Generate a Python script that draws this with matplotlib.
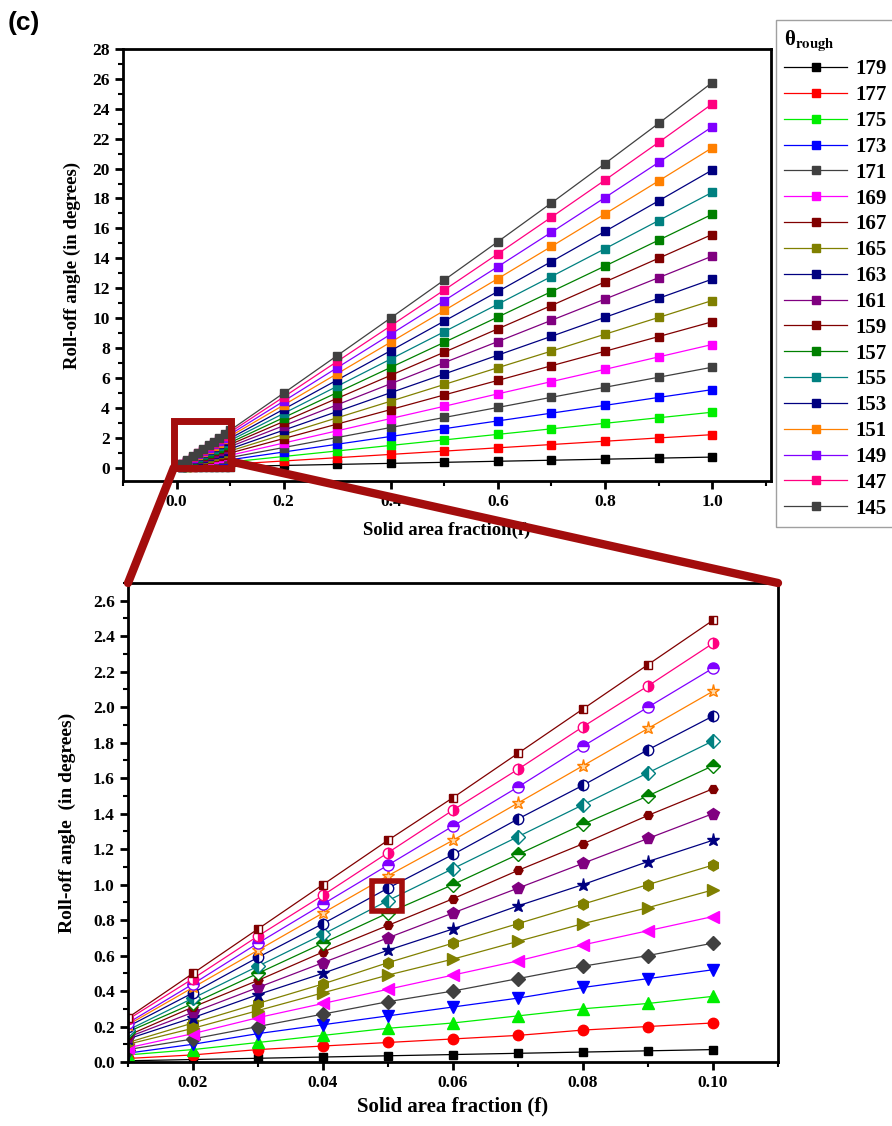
import numpy as np
import matplotlib
matplotlib.use("Agg")
import matplotlib.pyplot as plt
from matplotlib.patches import Rectangle, ConnectionPatch
from matplotlib.ticker import MultipleLocator, FormatStrFormatter

plt.rcParams['font.family'] = ['Liberation Serif', 'DejaVu Serif']
plt.rcParams['font.weight'] = 'bold'
plt.rcParams['mathtext.fontset'] = 'stix'

# solid area fraction f
f_vals = [0.01, 0.02, 0.03, 0.04, 0.05, 0.06, 0.07, 0.08, 0.09, 0.10,
          0.2, 0.3, 0.4, 0.5, 0.6, 0.7, 0.8, 0.9, 1.0]

theta_rough = [179, 177, 175, 173, 171, 169, 167, 165, 163, 161,
               159, 157, 155, 153, 151, 149, 147, 145]

# roll-off angle (deg), one list per theta_rough
a179 = [0.007, 0.014, 0.021, 0.028, 0.035, 0.042, 0.049, 0.056, 0.063, 0.07, 0.14, 0.21, 0.28, 0.35, 0.42, 0.49, 0.56, 0.63, 0.70]
a177 = [0.02, 0.04, 0.07, 0.09, 0.11, 0.13, 0.15, 0.18, 0.20, 0.22, 0.44, 0.66, 0.88, 1.10, 1.32, 1.54, 1.76, 1.98, 2.20]
a175 = [0.04, 0.07, 0.11, 0.15, 0.19, 0.22, 0.26, 0.30, 0.33, 0.37, 0.74, 1.11, 1.48, 1.85, 2.22, 2.59, 2.96, 3.33, 3.70]
a173 = [0.05, 0.10, 0.16, 0.21, 0.26, 0.31, 0.36, 0.42, 0.47, 0.52, 1.04, 1.56, 2.08, 2.60, 3.12, 3.64, 4.16, 4.69, 5.21]
a171 = [0.07, 0.13, 0.20, 0.27, 0.34, 0.40, 0.47, 0.54, 0.60, 0.67, 1.34, 2.01, 2.68, 3.35, 4.02, 4.70, 5.37, 6.04, 6.71]
a169 = [0.08, 0.16, 0.25, 0.33, 0.41, 0.49, 0.57, 0.66, 0.74, 0.82, 1.64, 2.46, 3.28, 4.10, 4.93, 5.75, 6.57, 7.40, 8.23]
a167 = [0.10, 0.19, 0.29, 0.39, 0.49, 0.58, 0.68, 0.78, 0.87, 0.97, 1.94, 2.91, 3.88, 4.86, 5.83, 6.81, 7.78, 8.76, 9.75]
a165 = [0.11, 0.22, 0.33, 0.44, 0.56, 0.67, 0.78, 0.89, 1.00, 1.11, 2.22, 3.33, 4.44, 5.56, 6.68, 7.79, 8.92, 10.04, 11.17]
a163 = [0.13, 0.25, 0.38, 0.50, 0.63, 0.75, 0.88, 1.00, 1.13, 1.25, 2.50, 3.75, 5.01, 6.26, 7.52, 8.78, 10.05, 11.32, 12.60]
a161 = [0.14, 0.28, 0.42, 0.56, 0.70, 0.84, 0.98, 1.12, 1.26, 1.40, 2.80, 4.20, 5.61, 7.02, 8.43, 9.85, 11.27, 12.70, 14.14]
a159 = [0.15, 0.31, 0.46, 0.62, 0.77, 0.92, 1.08, 1.23, 1.39, 1.54, 3.08, 4.63, 6.17, 7.72, 9.28, 10.84, 12.42, 14.00, 15.59]
a157 = [0.17, 0.33, 0.50, 0.67, 0.84, 1.00, 1.17, 1.34, 1.50, 1.67, 3.34, 5.02, 6.70, 8.38, 10.07, 11.77, 13.48, 15.21, 16.94]
a155 = [0.18, 0.36, 0.54, 0.72, 0.91, 1.09, 1.27, 1.45, 1.63, 1.81, 3.62, 5.44, 7.26, 9.09, 10.93, 12.78, 14.64, 16.52, 18.41]
a153 = [0.20, 0.39, 0.59, 0.78, 0.98, 1.17, 1.37, 1.56, 1.76, 1.95, 3.90, 5.86, 7.82, 9.80, 11.78, 13.78, 15.80, 17.84, 19.90]
a151 = [0.21, 0.42, 0.63, 0.84, 1.05, 1.25, 1.46, 1.67, 1.88, 2.09, 4.18, 6.28, 8.39, 10.51, 12.64, 14.79, 16.97, 19.17, 21.39]
a149 = [0.22, 0.44, 0.67, 0.89, 1.11, 1.33, 1.55, 1.78, 2.00, 2.22, 4.44, 6.68, 8.92, 11.17, 13.44, 15.74, 18.06, 20.41, 22.79]
a147 = [0.24, 0.47, 0.71, 0.94, 1.18, 1.42, 1.65, 1.89, 2.12, 2.36, 4.72, 7.10, 9.48, 11.88, 14.30, 16.75, 19.23, 21.75, 24.32]
a145 = [0.25, 0.50, 0.75, 1.00, 1.25, 1.49, 1.74, 1.99, 2.24, 2.49, 4.98, 7.49, 10.01, 12.55, 15.11, 17.70, 20.34, 23.02, 25.75]

series = [a179, a177, a175, a173, a171, a169, a167, a165, a163,
          a161, a159, a157, a155, a153, a151, a149, a147, a145]

# styles (top panel: all squares; bottom panel: Origin-like symbol cycle)
top_colors = ['#000000', '#FF0000', '#00EE00', '#0000FF', '#404040', '#FF00FF',
              '#800000', '#808000', '#000080', '#800080', '#800000', '#008000',
              '#008080', '#000080', '#FF8000', '#8000FF', '#FF0080', '#404040']
bot_colors = ['#000000', '#FF0000', '#00EE00', '#0000FF', '#404040', '#FF00FF',
              '#808000', '#808000', '#000080', '#800080', '#800000', '#008000',
              '#008080', '#000080', '#FF8000', '#8000FF', '#FF0080', '#800000']
bot_markers = ['s', 'o', '^', 'v', 'D', '<', '>', 'h', '*', 'p',
               'H', 'D', 'D', 'o', '*', 'o', 'o', 's']
bot_fill = ['full', 'full', 'full', 'full', 'full', 'full', 'full', 'full', 'full', 'full',
            'full', 'top', 'left', 'left', 'full', 'top', 'right', 'left']
bot_size = [6, 7.5, 9, 9, 7.5, 9, 9, 8, 9.5, 8.5,
            6.5, 7.5, 7.5, 7.5, 9.5, 8, 7.5, 6]

RED = '#A30D0D'
W, H = 892, 1126
fig = plt.figure(figsize=(W / 100, H / 100), dpi=100)

ax1 = fig.add_axes([123 / W, 1 - 481 / H, 648 / W, 432 / H])
ax2 = fig.add_axes([128 / W, 1 - 1062 / H, 650 / W, 479 / H])

f = np.array(f_vals)
nlow = 10

handles = []
for i, a in enumerate(series):
    h, = ax1.plot(f, a, '-', color=top_colors[i], lw=0.9, marker='s', ms=6,
                  mfc=top_colors[i], mec=top_colors[i], label=str(theta_rough[i]))
    handles.append(h)

for i, a in enumerate(series):
    mfc = bot_colors[i]
    if i == 14:          # 151: pale open star
        mfc = '#FFD9A8'
    ax2.plot(f[:nlow], a[:nlow], '-', color=bot_colors[i], lw=0.9,
             marker=bot_markers[i], ms=bot_size[i], fillstyle=bot_fill[i],
             mfc=mfc, mec=bot_colors[i], mfcalt='white', mew=1.0)

for ax in (ax1, ax2):
    for sp in ax.spines.values():
        sp.set_linewidth(2.0)
    ax.tick_params(which='major', direction='out', length=6, width=2,
                   labelsize=12.5, top=False, right=False)
    ax.tick_params(which='minor', direction='out', length=3.5, width=1.5,
                   top=False, right=False)

ax1.set_xlim(-0.1, 1.11)
ax1.set_ylim(-0.9, 28)
ax1.xaxis.set_minor_locator(MultipleLocator(0.1))
ax1.xaxis.set_major_formatter(FormatStrFormatter('%.1f'))
ax1.set_xticks(np.arange(0, 1.01, 0.2))
ax1.yaxis.set_major_locator(MultipleLocator(2))
ax1.yaxis.set_minor_locator(MultipleLocator(1))
ax1.set_xlabel('Solid area fraction(f)', fontsize=13.5, fontweight='bold', labelpad=8)
ax1.set_ylabel('Roll-off angle (in degrees)', fontsize=13.5, fontweight='bold', labelpad=8)

ax2.set_xlim(0.01, 0.11)
ax2.set_ylim(0, 2.7)
ax2.set_xticks([0.02, 0.04, 0.06, 0.08, 0.10])
ax2.xaxis.set_minor_locator(MultipleLocator(0.01))
ax2.xaxis.set_major_formatter(FormatStrFormatter('%.2f'))
ax2.set_yticks(np.arange(0, 2.61, 0.2))
ax2.yaxis.set_minor_locator(MultipleLocator(0.1))
ax2.yaxis.set_major_formatter(FormatStrFormatter('%.1f'))
ax2.set_xlabel('Solid area fraction (f)', fontsize=15, fontweight='bold', labelpad=4)
ax2.set_ylabel('Roll-off angle  (in degrees)', fontsize=14, fontweight='bold', labelpad=12)

# zoom box on the top panel and the guide lines to the inset
ax1.add_patch(Rectangle((-0.005, 0.0), 0.107, 3.1, fill=False, ec=RED, lw=5, zorder=5))
for xa, ya, xb in ((-0.005, 0.0, 0.0), (0.102, 0.4, 1.0)):
    con = ConnectionPatch(xyA=(xa, ya), coordsA=ax1.transData,
                          xyB=(xb, 1.0), coordsB=ax2.transAxes,
                          color=RED, lw=6, zorder=10)
    fig.add_artist(con)

ax2.add_patch(Rectangle((0.0476, 0.85), 0.0046, 0.17, fill=False, ec=RED, lw=4, zorder=5))

leg = fig.legend(handles=handles, loc='upper left', bbox_to_anchor=(776 / W, 1 - 20 / H),
                 bbox_transform=fig.transFigure, borderaxespad=0,
                 title='θ$_{\\mathbf{rough}}$', title_fontsize=15,
                 prop={'family': 'Liberation Serif', 'weight': 'bold', 'size': 15},
                 handlelength=3.0, handletextpad=0.4, labelspacing=0.28,
                 frameon=True, fancybox=False, edgecolor='#888888',
                 borderpad=0.4)
leg._legend_box.align = 'left'
leg.get_frame().set_linewidth(1.0)

fig.text(8 / W, 1 - 30 / H, '(c)', fontsize=19, fontweight='bold',
         family=['Liberation Sans', 'DejaVu Sans'])

fig.savefig('out.png', dpi=100)
